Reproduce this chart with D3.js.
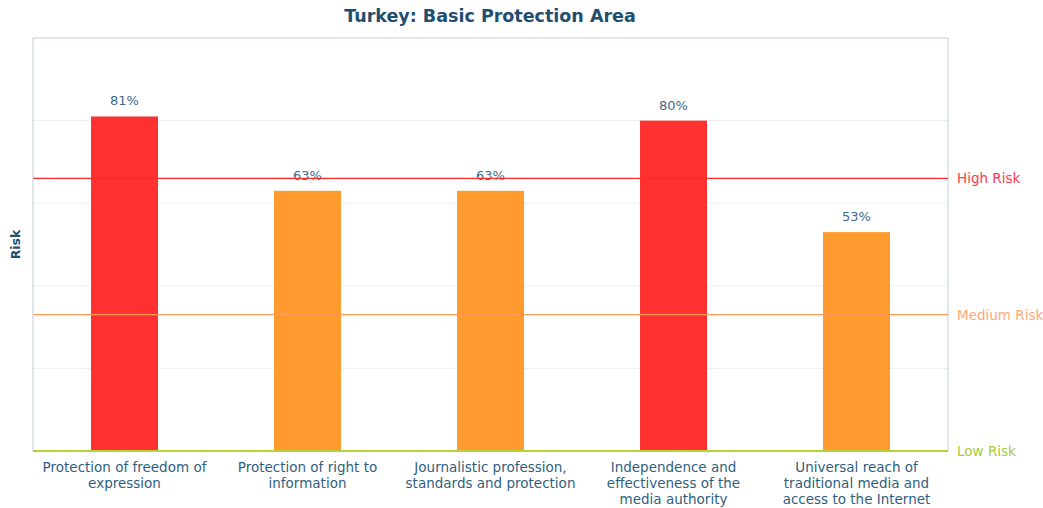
<!DOCTYPE html>
<html>
<head>
<meta charset="utf-8">
<script src="https://cdn.jsdelivr.net/npm/d3@7"></script>
<style>
  body { margin: 0; background: #fff; }
  svg text { font-family: "DejaVu Sans", Verdana, sans-serif; }
</style>
</head>
<body>
<svg id="chart" width="1043" height="508"></svg>
<script>
var categories = [
  ["Protection of freedom of", "expression"],
  ["Protection of right to", "information"],
  ["Journalistic profession,", "standards and protection"],
  ["Independence and", "effectiveness of the", "media authority"],
  ["Universal reach of", "traditional media and", "access to the Internet"]
];
var values = [81, 63, 63, 80, 53];
var gridTicks = [20, 40, 60, 80];
var thresholds = [
  { name: "Low Risk", value: 0, color: "#b5d335", text: "#a8c93a" },
  { name: "Medium Risk", value: 33, color: "#ff9b55", text: "#ffa774" },
  { name: "High Risk", value: 66, color: "#ff2a2a", text: "#ff3a4d" }
];

var svg = d3.select("#chart");
var margin = { top: 38, right: 95, bottom: 57, left: 33 };
var width = 1043 - margin.left - margin.right;
var height = 508 - margin.top - margin.bottom;

var x = d3.scaleBand()
  .domain(d3.range(values.length))
  .range([0, width])
  .paddingInner(0.634)
  .paddingOuter(0.317);

var y = d3.scaleLinear().domain([0, 100]).range([height, 0]);

var g = svg.append("g").attr("transform", "translate(" + margin.left + "," + margin.top + ")");

// title
svg.append("text")
  .attr("x", 490).attr("y", 22)
  .attr("text-anchor", "middle")
  .attr("font-size", 17.5).attr("font-weight", "bold")
  .attr("fill", "#1f4e6e")
  .text("Turkey: Basic Protection Area");

// y axis title
svg.append("text")
  .attr("transform", "translate(20," + (margin.top + y(50)) + ") rotate(-90)")
  .attr("text-anchor", "middle")
  .attr("font-size", 12.5).attr("font-weight", "bold")
  .attr("fill", "#1f4e6e")
  .text("Risk");

// grid
g.selectAll(".grid")
  .data(gridTicks)
  .enter().append("line")
  .attr("x1", 0).attr("x2", width)
  .attr("y1", function(d) { return y(d); })
  .attr("y2", function(d) { return y(d); })
  .attr("stroke", "#eceef1").attr("stroke-width", 1);

// frame
g.append("rect")
  .attr("x", 0).attr("y", 0)
  .attr("width", width).attr("height", height)
  .attr("fill", "none")
  .attr("stroke", "#cad8e2").attr("stroke-width", 1.2);

// bars
function barColor(v) {
  return v >= 66 ? "#ff3131" : (v >= 33 ? "#fe9a2e" : "#b5d335");
}
g.selectAll(".bar")
  .data(values)
  .enter().append("rect")
  .attr("x", function(d, i) { return x(i); })
  .attr("y", function(d) { return y(d); })
  .attr("width", x.bandwidth())
  .attr("height", function(d) { return height - y(d); })
  .attr("fill", function(d) { return barColor(d); });

// value labels
g.selectAll(".val")
  .data(values)
  .enter().append("text")
  .attr("x", function(d, i) { return x(i) + x.bandwidth() / 2; })
  .attr("y", function(d) { return y(d) - 11; })
  .attr("text-anchor", "middle")
  .attr("font-size", 13)
  .attr("fill", "#3d6a8a")
  .text(function(d) { return d + "%"; });

// threshold lines
g.selectAll(".thr")
  .data(thresholds)
  .enter().append("line")
  .attr("x1", 0).attr("x2", width)
  .attr("y1", function(d) { return y(d.value); })
  .attr("y2", function(d) { return y(d.value); })
  .attr("stroke", function(d) { return d.color; })
  .attr("stroke-width", function(d) { return d.value === 0 ? 2 : 1.2; });

g.selectAll(".thrLabel")
  .data(thresholds)
  .enter().append("text")
  .attr("x", width + 9)
  .attr("y", function(d) { return y(d.value) + 5; })
  .attr("font-size", 13.5)
  .attr("fill", function(d) { return d.text; })
  .text(function(d) { return d.name; });

// category labels
var cat = g.selectAll(".cat")
  .data(categories)
  .enter().append("text")
  .attr("text-anchor", "middle")
  .attr("font-size", 13.5)
  .attr("fill", "#2f5f80")
  .attr("transform", function(d, i) {
    return "translate(" + (x(i) + x.bandwidth() / 2) + "," + (height + 21) + ")";
  });
cat.selectAll("tspan")
  .data(function(d) { return d; })
  .enter().append("tspan")
  .attr("x", 0)
  .attr("y", function(d, i) { return i * 16; })
  .text(function(d) { return d; });
</script>
</body>
</html>
